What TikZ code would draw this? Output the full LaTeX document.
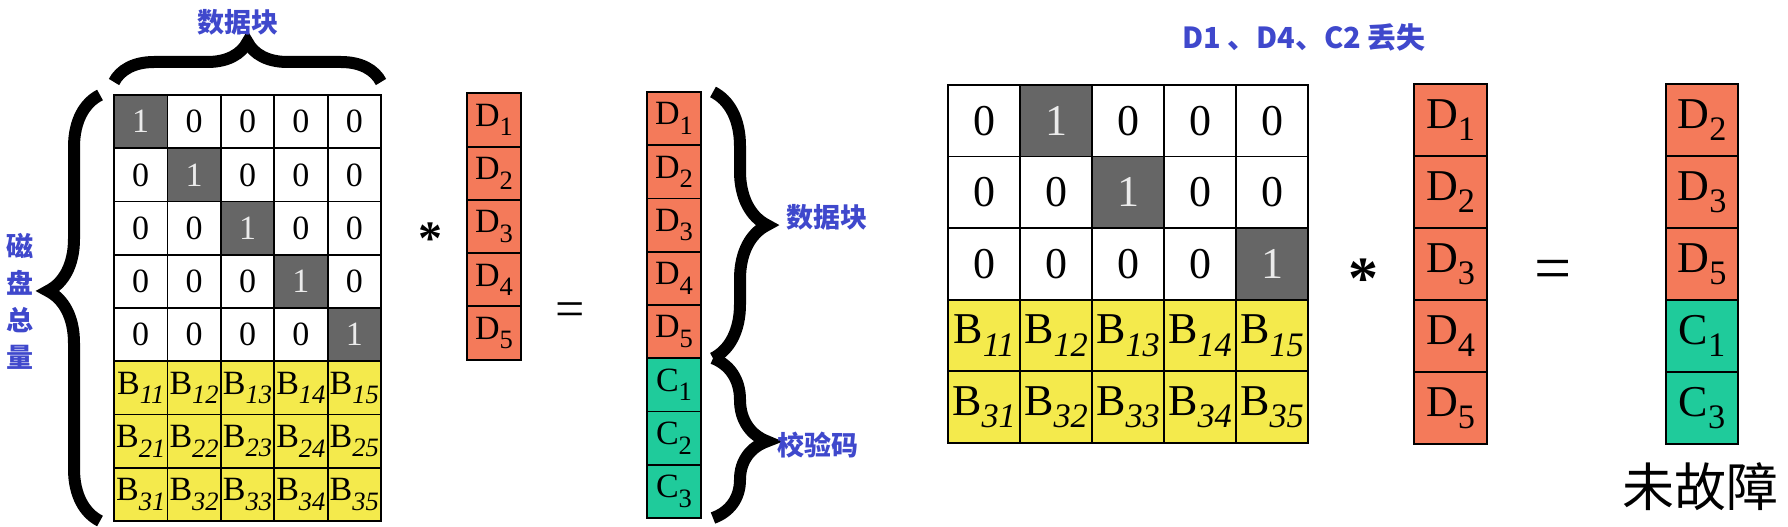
\documentclass[tikz,border=0pt]{standalone}
\usepackage{fontspec}
\setmainfont{Liberation Serif}
\newfontfamily\cjk{Noto Sans CJK SC}
\usetikzlibrary{positioning}
\usetikzlibrary{decorations.pathreplacing}
\definecolor{onecol}{HTML}{666666}
\definecolor{datacol}{HTML}{F47A5A}
\definecolor{paritycol}{HTML}{1FCB9B}
\definecolor{coefcol}{HTML}{F4EA4C}
\definecolor{notecol}{HTML}{3F48CC}
\newcommand{\lo}[1]{\raisebox{-0.28em}{\scalebox{0.78}{#1}}}
\newcommand{\loi}[1]{\raisebox{-0.28em}{\scalebox{0.78}{\itshape #1}}}

\begin{document}
\begin{tikzpicture}[x=1pt, y=-1pt,
    box/.style = {draw, line width=1.8pt, inner sep=0pt, outer sep=0pt},
    sbox/.style = {box, minimum width=53.4pt, minimum height=53.25pt, font=\fontsize{34}{34}\selectfont},
    bbox/.style = {box, minimum width=72pt, minimum height=72pt, font=\fontsize{44}{44}\selectfont},
    zero/.style = {fill=white},
    one/.style = {fill=onecol, text=white!92!black},
    coef/.style = {fill=coefcol},
    data/.style = {fill=datacol},
    parity/.style = {fill=paritycol},
    curly/.style = {decorate, decoration={brace, amplitude=#1}, line width=12pt},
    note/.style = {text=notecol, font=\cjk\bfseries\fontsize{27}{37}\selectfont}]
    \useasboundingbox (0,0) rectangle (1788,527);
    % encoding: matrix * data = data + parity
    \foreach \i in {1,...,5}
        \foreach \j in {1,...,5} {
            \ifnum\i=\j
                \node[sbox, one] (L\i\j) at ({114+53.4*(\j-0.5)},{95+53.25*(\i-0.5)}) {1};
            \else
                \node[sbox, zero] (L\i\j) at ({114+53.4*(\j-0.5)},{95+53.25*(\i-0.5)}) {0};
            \fi
        }
    \foreach \i/\k in {6/1, 7/2, 8/3}
        \foreach \j in {1,...,5}
            \node[sbox, coef] (L\i\j) at ({114+53.4*(\j-0.5)},{95+53.25*(\i-0.5)}) {B\loi{\k\j}};
    \draw[curly=40pt] ([yshift=13pt]L11.north west) -- ([yshift=13pt]L15.north east);
    \draw[curly=52pt, decoration={aspect=0.54}] ([xshift=-14pt]L81.south west) -- ([xshift=-14pt]L11.north west);
    \node[note] (blocks) at (238,22) {数据块};
    \node[note, align=center] (disks) at (20,301) {磁\\盘\\总\\量};

    \node[font=\bfseries\fontsize{48}{48}\selectfont] (times) at (430,239) {*};
    \node[sbox, data, minimum width=54pt] (x1) at (494,120) {D\lo{1}};
    \node[sbox, data, minimum width=54pt, below=0pt of x1] (x2) {D\lo{2}};
    \node[sbox, data, minimum width=54pt, below=0pt of x2] (x3) {D\lo{3}};
    \node[sbox, data, minimum width=54pt, below=0pt of x3] (x4) {D\lo{4}};
    \node[sbox, data, minimum width=54pt, below=0pt of x4] (x5) {D\lo{5}};
    \node[font=\fontsize{52}{52}\selectfont] (eq) at (570,315) {=};

    \node[sbox, data, minimum width=54pt] (r1) at (674,118.6) {D\lo{1}};
    \node[sbox, data, minimum width=54pt, below=0pt of r1] (r2) {D\lo{2}};
    \node[sbox, data, minimum width=54pt, below=0pt of r2] (r3) {D\lo{3}};
    \node[sbox, data, minimum width=54pt, below=0pt of r3] (r4) {D\lo{4}};
    \node[sbox, data, minimum width=54pt, below=0pt of r4] (r5) {D\lo{5}};
    \node[sbox, parity, minimum width=54pt, below=0pt of r5] (r6) {C\lo{1}};
    \node[sbox, parity, minimum width=54pt, below=0pt of r6] (r7) {C\lo{2}};
    \node[sbox, parity, minimum width=54pt, below=0pt of r7] (r8) {C\lo{3}};
    \draw[curly=54pt] ([xshift=12pt]r1.north east) -- ([xshift=12pt]r5.south east);
    \draw[curly=54pt, decoration={aspect=0.52}] ([xshift=12pt]r6.north east) -- ([xshift=12pt]r8.south east);
    \node[note] (datanote) at (827,217) {数据块};
    \node[note] (paritynote) at (818,445) {校验码};

    % recovery: rows of the lost blocks removed
    \node[note, font=\cjk\bfseries\fontsize{29}{29}\selectfont] (lost) at (1304,37) {D1 、D4、C2 丢失};
    \foreach \i/\p in {1/2, 2/3, 3/5}
        \foreach \j in {1,...,5} {
            \ifnum\j=\p
                \node[bbox, one] (R\i\j) at ({948+72*(\j-0.5)},{85+71.6*(\i-0.5)}) {1};
            \else
                \node[bbox, zero] (R\i\j) at ({948+72*(\j-0.5)},{85+71.6*(\i-0.5)}) {0};
            \fi
        }
    \foreach \i/\k in {4/1, 5/3}
        \foreach \j in {1,...,5}
            \node[bbox, coef] (R\i\j) at ({948+72*(\j-0.5)},{85+71.6*(\i-0.5)}) {B\loi{\k\j}};

    \node[font=\bfseries\fontsize{60}{60}\selectfont] (times2) at (1363,279) {*};
    \node[bbox, data, minimum width=73pt] (y1) at (1450.5,120) {D\lo{1}};
    \node[bbox, data, minimum width=73pt, below=0pt of y1] (y2) {D\lo{2}};
    \node[bbox, data, minimum width=73pt, below=0pt of y2] (y3) {D\lo{3}};
    \node[bbox, data, minimum width=73pt, below=0pt of y3] (y4) {D\lo{4}};
    \node[bbox, data, minimum width=73pt, below=0pt of y4] (y5) {D\lo{5}};
    \node[font=\fontsize{66}{66}\selectfont] (eq2) at (1553,275) {=};

    \node[bbox, data] (z1) at (1702,120) {D\lo{2}};
    \node[bbox, data, below=0pt of z1] (z2) {D\lo{3}};
    \node[bbox, data, below=0pt of z2] (z3) {D\lo{5}};
    \node[bbox, parity, below=0pt of z3] (z4) {C\lo{1}};
    \node[bbox, parity, below=0pt of z4] (z5) {C\lo{3}};
    \node[font=\cjk\fontsize{52}{52}\selectfont] (ok) at (1700,487) {未故障};
\end{tikzpicture}
\end{document}
